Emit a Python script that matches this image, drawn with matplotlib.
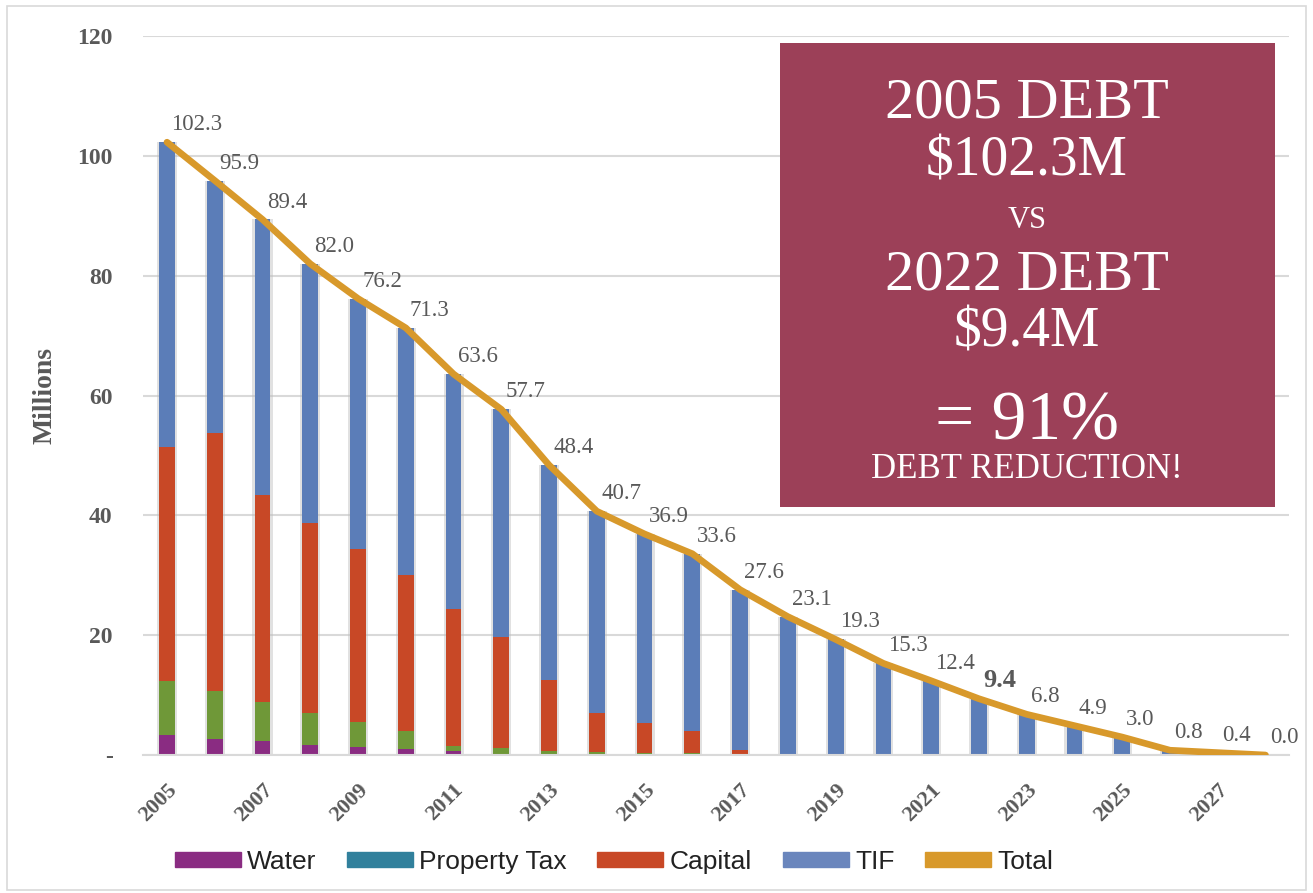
import matplotlib
matplotlib.use("Agg")
import matplotlib.pyplot as plt
import numpy as np
from matplotlib.patches import Patch, Rectangle

years = list(range(2005, 2029))
water = [3.3, 2.7, 2.3, 1.7, 1.3, 1.0, 0.6, 0.2, 0.1, 0.0, 0.0, 0.0, 0.0,
         0.0, 0.0, 0.0, 0.0, 0.0, 0.0, 0.0, 0.0, 0.0, 0.0, 0.0]
property_tax = [9.1, 8.0, 6.5, 5.3, 4.2, 3.0, 0.9, 0.9, 0.5, 0.5, 0.4, 0.3, 0.0,
                0.0, 0.0, 0.0, 0.0, 0.0, 0.0, 0.0, 0.0, 0.0, 0.0, 0.0]
capital = [39.0, 43.1, 34.6, 31.7, 28.9, 26.0, 22.9, 18.6, 11.9, 6.5, 4.9, 3.7, 0.9,
           0.0, 0.0, 0.0, 0.0, 0.0, 0.0, 0.0, 0.0, 0.0, 0.0, 0.0]
tif = [50.9, 42.1, 46.0, 43.3, 41.8, 41.3, 39.2, 38.0, 35.9, 33.7, 31.6, 29.6, 26.7,
       23.1, 19.3, 15.3, 12.4, 9.4, 6.8, 4.9, 3.0, 0.8, 0.4, 0.0]
total = [102.3, 95.9, 89.4, 82.0, 76.2, 71.3, 63.6, 57.7, 48.4, 40.7, 36.9, 33.6, 27.6,
         23.1, 19.3, 15.3, 12.4, 9.4, 6.8, 4.9, 3.0, 0.8, 0.4, 0.0]
yticks = [0, 20, 40, 60, 80, 100, 120]
ytick_labels = ["-", "20", "40", "60", "80", "100", "120"]

c_water = "#8a2c82"
c_ptax_bar = "#6f9838"
c_ptax_leg = "#31809c"
c_cap = "#c84826"
c_tif = "#5b7db8"
c_tif_leg = "#6a86bd"
c_total = "#d8992b"

fig = plt.figure(figsize=(13.13, 8.93), dpi=100)
ax = fig.add_axes([0.109, 0.1545, 0.873, 0.805])

x = np.arange(len(years))
w = 0.33
# soft shadow behind bars
ax.bar(x, total, width=w + 0.09, color="#bdbdbd", alpha=0.45, zorder=1, linewidth=0)
b0 = np.zeros(len(years))
for vals, col in [(water, c_water), (property_tax, c_ptax_bar), (capital, c_cap), (tif, c_tif)]:
    ax.bar(x, vals, width=w, bottom=b0, color=col, zorder=2, linewidth=0)
    b0 = b0 + np.array(vals)

ax.plot(x, total, color=c_total, lw=4.8, zorder=4, solid_joinstyle="round",
        solid_capstyle="round")

for i, v in enumerate(total):
    bold = years[i] == 2022
    ax.annotate(f"{v:.1f}", (x[i], v), xytext=(3, 5), textcoords="offset points",
                ha="left", va="bottom", fontsize=19 if bold else 16.5,
                fontweight="bold" if bold else "normal",
                family="Liberation Serif", color="#595959", zorder=5)

ax.set_xlim(-0.5, len(years) - 0.5)
ax.set_ylim(0, 120)
ax.set_yticks(yticks)
ax.set_yticklabels(ytick_labels)
ax.yaxis.grid(True, color="#d9d9d9", lw=1.5, zorder=0)
ax.set_axisbelow(True)
for s in ["top", "right", "left"]:
    ax.spines[s].set_visible(False)
ax.spines["bottom"].set_color("#d9d9d9")
ax.spines["bottom"].set_linewidth(1.5)
ax.tick_params(axis="y", length=0, pad=22, labelsize=17, labelcolor="#595959")
for lab in ax.get_yticklabels():
    lab.set_family("Liberation Serif")
    lab.set_fontweight("bold")
ax.set_xticks(x[::2])
ax.set_xticklabels([str(y) for y in years[::2]], rotation=45, ha="right",
                   rotation_mode="anchor", fontsize=16, fontweight="bold",
                   family="Liberation Serif", color="#595959")
ax.tick_params(axis="x", length=0, pad=18)
fig.text(45 / 1313, 1 - 395 / 893, "Millions", rotation=90, ha="center", va="center",
         fontsize=20, fontweight="bold", family="Liberation Serif", color="#595959")

# legend
handles = [Patch(color=c_water, label="Water"),
           Patch(color=c_ptax_leg, label="Property Tax"),
           Patch(color=c_cap, label="Capital"),
           Patch(color=c_tif_leg, label="TIF"),
           Patch(color=c_total, label="Total")]
leg = fig.legend(handles=handles, loc="center", bbox_to_anchor=(614 / 1313, 1 - 862 / 893),
                 ncol=5, frameon=False, handlelength=2.5, handleheight=0.5,
                 columnspacing=1.15, handletextpad=0.25,
                 prop={"family": "Liberation Sans", "size": 19})
for t in leg.get_texts():
    t.set_color("#222222")

# callout box
fig.patches.append(Rectangle((780 / 1313, 1 - 507 / 893), 495 / 1313, 464 / 893,
                             transform=fig.transFigure, facecolor="#9c4058",
                             edgecolor="none", zorder=10))
cx = 1027 / 1313
box_lines = [("2005 DEBT", 118, 42), ("$102.3M", 176, 40), ("VS", 228, 22),
             ("2022 DEBT", 290, 42), ("$9.4M", 346, 40), ("= 91%", 440, 50),
             ("DEBT REDUCTION!", 478, 25)]
for txt, ypx, fs in box_lines:
    fig.text(cx, 1 - ypx / 893, txt, ha="center", va="baseline", fontsize=fs,
             family="Liberation Serif", color="white", zorder=11)

# figure border
fig.patches.append(Rectangle((7 / 1313, 3 / 893), 1299 / 1313, 884 / 893,
                             transform=fig.transFigure, facecolor="none",
                             edgecolor="#d9d9d9", lw=1.2))

fig.savefig("out.png", dpi=100)
